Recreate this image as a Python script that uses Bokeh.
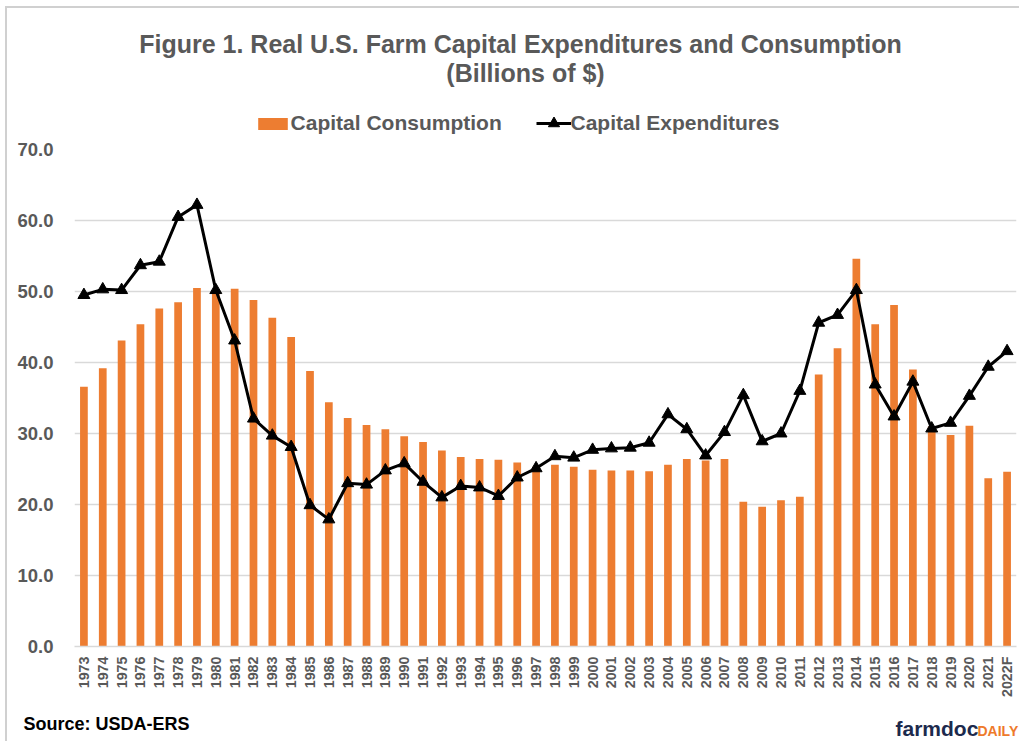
from math import pi
from bokeh.plotting import figure
from bokeh.models import (ColumnDataSource, FactorRange, Range1d, FixedTicker,
                          NumeralTickFormatter, Label, Legend, LegendItem)
from bokeh.embed import file_html
from bokeh.resources import INLINE

years = [str(y) for y in range(1973, 2022)] + ["2022F"]

consumption = [36.6, 39.2, 43.1, 45.4, 47.6, 48.5, 50.5, 50.2, 50.4, 48.8,
               46.3, 43.6, 38.8, 34.4, 32.2, 31.2, 30.6, 29.6, 28.8, 27.6,
               26.7, 26.4, 26.3, 25.9, 25.3, 25.6, 25.3, 24.9, 24.8, 24.8,
               24.7, 25.6, 26.4, 26.2, 26.4, 20.4, 19.7, 20.6, 21.1, 38.3,
               42.0, 54.6, 45.4, 48.1, 39.0, 31.0, 29.8, 31.1, 23.7, 24.6]

expenditures = [49.5, 50.3, 50.2, 53.7, 54.2, 60.5, 62.2, 50.2, 43.1, 32.1,
                29.7, 28.1, 19.9, 17.9, 23.0, 22.8, 24.8, 25.8, 23.2, 21.0,
                22.6, 22.4, 21.2, 23.8, 25.1, 26.8, 26.6, 27.7, 27.9, 28.0,
                28.7, 32.7, 30.6, 26.9, 30.2, 35.4, 28.9, 30.0, 36.0, 45.6,
                46.7, 50.2, 36.9, 32.4, 37.3, 30.7, 31.5, 35.3, 39.4, 41.6]

y_ticks = [0, 10, 20, 30, 40, 50, 60, 70]

title_1 = "Figure 1. Real U.S. Farm Capital Expenditures and Consumption"
title_2 = "(Billions of $)"
legend_labels = ["Capital Consumption", "Capital Expenditures"]
source_text = "Source: USDA-ERS"

FONT = "Liberation Sans"
GRAY = "#595959"
ORANGE = "#ED7D31"
BORDER = "2px solid #d0d0d0"
W = 1014


def blank(h, styles):
    f = figure(width=W, height=h, x_range=Range1d(0, W), y_range=Range1d(h, 0),
               output_backend="svg", toolbar_location=None,
               x_axis_location=None, y_axis_location=None,
               min_border=0, min_border_left=0, min_border_right=0,
               min_border_top=0, min_border_bottom=0, styles=styles)
    f.grid.visible = False
    f.outline_line_color = None
    return f


def add_label(f, txt, x, y, size, color, align="left"):
    f.add_layout(Label(x=x, y=y, text=txt, text_font=FONT, text_font_size=size,
                       text_font_style="bold", text_color=color,
                       text_align=align, text_baseline="middle"))


def make_legend(item, loc, gw, gh):
    return Legend(items=[item], orientation="horizontal", location=loc,
                  glyph_width=gw, glyph_height=gh, label_height=24,
                  label_standoff=0, padding=0, margin=0,
                  border_line_color=None, background_fill_alpha=0,
                  label_text_font=FONT, label_text_font_size="21px",
                  label_text_font_style="bold", label_text_color=GRAY)


# ---------- header: titles + legend ----------
H_HEAD = 130
head = blank(H_HEAD, {"margin-left": "5px", "margin-top": "6px",
                      "border-top": BORDER, "border-left": BORDER})
add_label(head, title_1, 513, 35.7, "25px", GRAY, align="center")
add_label(head, title_2, 518, 64.8, "25px", GRAY, align="center")

proxy = ColumnDataSource(dict(x=[float("nan")], y=[float("nan")]))
lg_bar = head.vbar(x="x", top="y", width=1, source=proxy,
                   fill_color=ORANGE, line_color=None)
lg_line = head.line(x="x", y="y", source=proxy, line_color="black", line_width=3)
lg_pts = head.scatter(x="x", y="y", source=proxy, marker="triangle",
                      fill_color="black", line_color="black")
head.add_layout(make_legend(LegendItem(label=legend_labels[0], renderers=[lg_bar]),
                            (246.6, 3), 37, 15), "center")
head.add_layout(make_legend(LegendItem(label=legend_labels[1],
                                       renderers=[lg_line, lg_pts]),
                            (528.5, 1), 35, 28), "center")

# ---------- main chart ----------
src = ColumnDataSource(dict(year=years, cons=consumption, exp=expenditures))

p = figure(width=W, height=569, x_range=FactorRange(*years),
           y_range=Range1d(0, 70), output_backend="svg", toolbar_location=None,
           min_border_left=67, min_border_right=5, min_border_top=13,
           min_border_bottom=59,
           styles={"margin-left": "5px", "border-left": BORDER})
p.outline_line_color = None

p.vbar(x="year", top="cons", width=0.41, source=src,
       fill_color=ORANGE, line_color=None)
p.line(x="year", y="exp", source=src, line_color="black", line_width=3)
p.scatter(x="year", y="exp", source=src, marker="triangle", size=12,
          fill_color="black", line_color="black")

p.xgrid.grid_line_color = None
p.ygrid.grid_line_color = "#d9d9d9"
p.ygrid.grid_line_width = 1.3

p.yaxis.ticker = FixedTicker(ticks=y_ticks)
p.yaxis.formatter = NumeralTickFormatter(format="0.0")
p.yaxis.axis_line_color = None
p.yaxis.major_tick_line_color = None
p.yaxis.minor_tick_line_color = None
p.yaxis.major_label_text_font = FONT
p.yaxis.major_label_text_font_size = "18.5px"
p.yaxis.major_label_text_font_style = "bold"
p.yaxis.major_label_text_color = GRAY
p.yaxis.major_label_standoff = 15

p.xaxis.axis_line_color = "#d9d9d9"
p.xaxis.axis_line_width = 1.3
p.xaxis.major_tick_line_color = None
p.xaxis.minor_tick_line_color = None
p.xaxis.major_tick_out = 0
p.xaxis.major_tick_in = 0
p.xaxis.minor_tick_out = 0
p.xaxis.minor_tick_in = 0
p.xaxis.major_label_orientation = pi / 2
p.xaxis.major_label_text_font = FONT
p.xaxis.major_label_text_font_size = "14.3px"
p.xaxis.major_label_text_font_style = "bold"
p.xaxis.major_label_text_color = GRAY
p.xaxis.major_label_standoff = 10

# ---------- footer: source + logo ----------
H_FOOT = 36
foot = blank(H_FOOT, {"margin-left": "5px", "border-left": BORDER})
add_label(foot, source_text, 16, 18, "18px", "black")
add_label(foot, "farmdoc", 888, 22.6, "21px", "#1c2a4d")
add_label(foot, "DAILY", 970, 25, "14px", "#ee7a2b")

open("out.html", "w").write(file_html([head, p, foot], INLINE))
